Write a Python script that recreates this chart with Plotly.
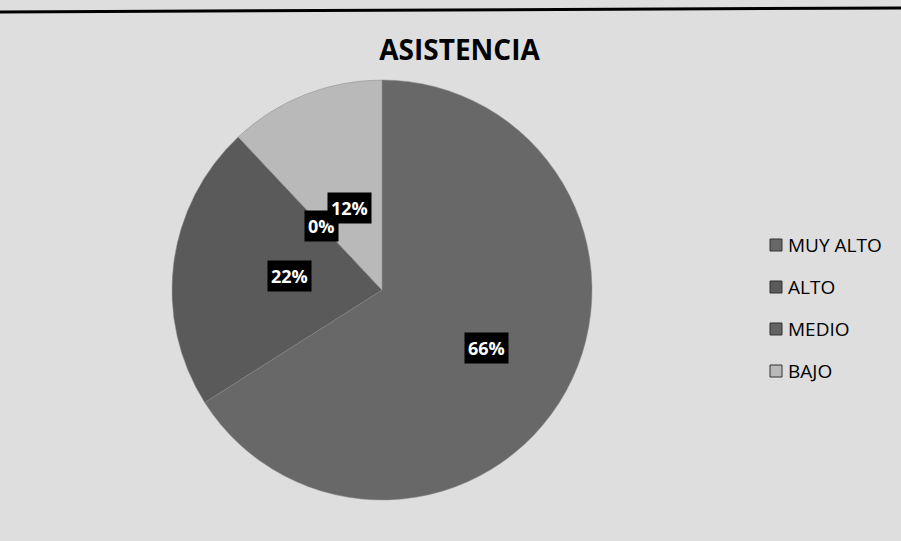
import math
import plotly.graph_objects as go

categories = ["MUY ALTO", "ALTO", "MEDIO", "BAJO"]
values = [66, 22, 0, 12]
label_texts = ["66%", "22%", "0%", "12%"]

colors = ["#686868", "#5a5a5a", "#636363", "#b9b9b9"]
label_radius = [0.57, 0.55, 0.42, 0.42]

W, H = 901, 541
dom_x = [172 / W, 592 / W]
dom_y = [1 - 500 / H, 1 - 80 / H]
FONT = "Open Sans, Liberation Sans, sans-serif"

fig = go.Figure(go.Pie(
    labels=categories,
    values=values,
    sort=False,
    direction="clockwise",
    rotation=0,
    textinfo="none",
    marker=dict(colors=colors, line=dict(color="#8a8a8a", width=0.5)),
    domain=dict(x=dom_x, y=dom_y),
    hoverinfo="label+percent",
    showlegend=False,
))

# data labels placed from cumulative slice angles
cx = (dom_x[0] + dom_x[1]) / 2
cy = (dom_y[0] + dom_y[1]) / 2
rx = (dom_x[1] - dom_x[0]) / 2
ry = (dom_y[1] - dom_y[0]) / 2
total = sum(values)
cum = 0
for v, t, rf in zip(values, label_texts, label_radius):
    mid = (cum + v / 2) / total * 2 * math.pi
    cum += v
    fig.add_annotation(
        x=cx + rf * rx * math.sin(mid),
        y=cy + rf * ry * math.cos(mid),
        xref="paper", yref="paper",
        text="<b>" + t + "</b>", showarrow=False,
        font=dict(family=FONT, size=18, color="white"),
        bgcolor="black", borderpad=3,
    )

# legend (spaced like the original)
leg_x = 770 / W
leg_top = 1 - 245 / H
leg_step = 42 / H
sq_w, sq_h = 12 / W, 12 / H
for i, (name, c) in enumerate(zip(categories, colors)):
    yc = leg_top - i * leg_step
    fig.add_shape(type="rect", xref="paper", yref="paper",
                  x0=leg_x, x1=leg_x + sq_w, y0=yc - sq_h / 2, y1=yc + sq_h / 2,
                  fillcolor=c, line=dict(color="#333", width=1))
    fig.add_annotation(x=leg_x + 16 / W, y=yc, xref="paper", yref="paper",
                       xanchor="left", yanchor="middle", showarrow=False,
                       text=name, font=dict(family=FONT, size=19, color="black"))

# scanned page top edge
fig.add_shape(type="line", xref="paper", yref="paper",
              x0=0, x1=1, y0=1 - 12 / H, y1=1 - 8 / H,
              line=dict(color="black", width=3))

fig.update_layout(
    width=W, height=H,
    margin=dict(l=0, r=0, t=0, b=0),
    paper_bgcolor="#dedede",
    plot_bgcolor="#dedede",
    title=dict(text="<b>ASISTENCIA</b>", x=0.51, xanchor="center", y=1 - 50 / H, yanchor="middle",
               font=dict(family=FONT, size=28, color="black")),
    showlegend=False,
)

fig.write_html("out.html", config={"displayModeBar": False},
               post_script="document.body.style.margin='0';")
